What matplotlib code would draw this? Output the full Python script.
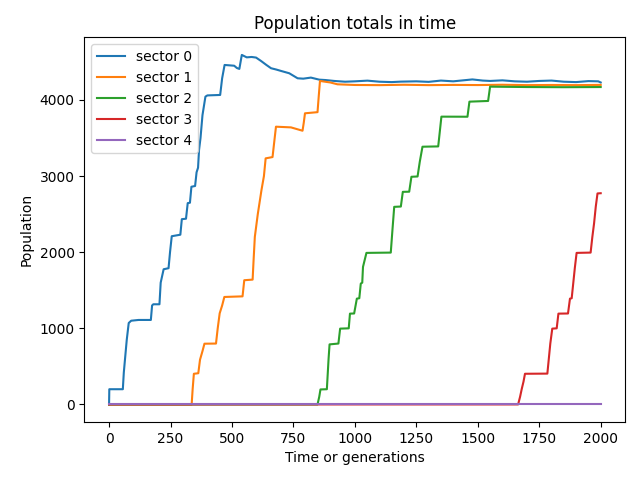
import matplotlib
matplotlib.use("Agg")
import matplotlib.pyplot as plt

# breakpoints (time, population)
t0 = [0, 1, 56, 60, 65, 72, 80, 90, 120, 170, 175, 180, 205, 210, 222, 242, 248, 255,
      290, 296, 313, 320, 329, 335, 350, 356, 362, 366, 372, 380, 392, 400, 452, 460,
      470, 490, 509, 520, 530, 535, 540, 560, 580, 598, 618, 640, 659, 680, 699, 733,
      767, 790, 821, 855, 880, 916, 960, 1000, 1051, 1100, 1150, 1187, 1250, 1300,
      1350, 1400, 1478, 1520, 1550, 1600, 1650, 1700, 1750, 1800, 1850, 1900, 1950,
      1990, 2000]
p0 = [0, 200, 200, 420, 600, 850, 1070, 1100, 1110, 1110, 1300, 1316, 1316, 1600, 1776,
      1790, 2000, 2210, 2230, 2434, 2440, 2645, 2650, 2860, 2870, 3050, 3110, 3342,
      3500, 3800, 4044, 4060, 4066, 4285, 4460, 4455, 4450, 4420, 4408, 4500, 4592,
      4560, 4565, 4557, 4513, 4460, 4417, 4400, 4382, 4351, 4285, 4280, 4294, 4267,
      4262, 4250, 4240, 4245, 4254, 4240, 4235, 4241, 4245, 4238, 4255, 4245, 4270,
      4255, 4250, 4258, 4245, 4240, 4250, 4255, 4240, 4235, 4248, 4245, 4230]

t1 = [0, 336, 340, 345, 363, 370, 380, 388, 435, 442, 450, 460, 469, 543, 550, 584, 588,
      593, 605, 620, 630, 637, 665, 672, 679, 740, 787, 792, 797, 848, 853, 858, 900,
      929, 1000, 1100, 1200, 1300, 1400, 1500, 1600, 1700, 1800, 1900, 2000]
p1 = [0, 0, 200, 403, 410, 588, 700, 798, 800, 1000, 1197, 1300, 1412, 1420, 1632, 1640,
      1900, 2202, 2500, 2816, 3000, 3233, 3250, 3450, 3649, 3640, 3596, 3700, 3825,
      3840, 4050, 4250, 4230, 4206, 4197, 4195, 4200, 4195, 4198, 4196, 4200, 4195,
      4197, 4195, 4198]

t2 = [0, 848, 855, 860, 886, 893, 897, 933, 940, 975, 980, 997, 1008, 1018, 1024, 1030,
      1033, 1047, 1146, 1153, 1160, 1187, 1195, 1221, 1230, 1255, 1264, 1275, 1339,
      1346, 1352, 1458, 1466, 1542, 1550, 1700, 1850, 2000]
p2 = [0, 0, 100, 197, 200, 600, 789, 800, 996, 1000, 1193, 1195, 1390, 1395, 1588, 1600,
      1807, 1991, 1995, 2300, 2596, 2600, 2793, 2795, 2991, 2995, 3188, 3386, 3390,
      3600, 3781, 3780, 3978, 3987, 4175, 4170, 4168, 4170]

t3 = [0, 1664, 1672, 1679, 1686, 1692, 1783, 1795, 1803, 1821, 1828, 1867, 1875, 1882,
      1895, 1902, 1959, 1966, 1973, 1980, 1987, 2000]
p3 = [0, 0, 100, 206, 300, 403, 405, 800, 996, 1000, 1193, 1195, 1390, 1395, 1800, 1991,
      1995, 2200, 2378, 2600, 2772, 2775]

t4 = [0, 2000]
p4 = [0, 0]

times = [t0, t1, t2, t3, t4]
pops = [p0, p1, p2, p3, p4]

plt.figure(figsize=(6.4, 4.8), dpi=100)
for i in range(len(times)):
    plt.plot(times[i], pops[i], label="sector " + str(i))
plt.title("Population totals in time")
plt.xlabel("Time or generations")
plt.ylabel("Population")
plt.legend(loc="upper left")
plt.subplots_adjust(left=0.132, right=0.977, top=0.922, bottom=0.121)
plt.savefig("out.png")
